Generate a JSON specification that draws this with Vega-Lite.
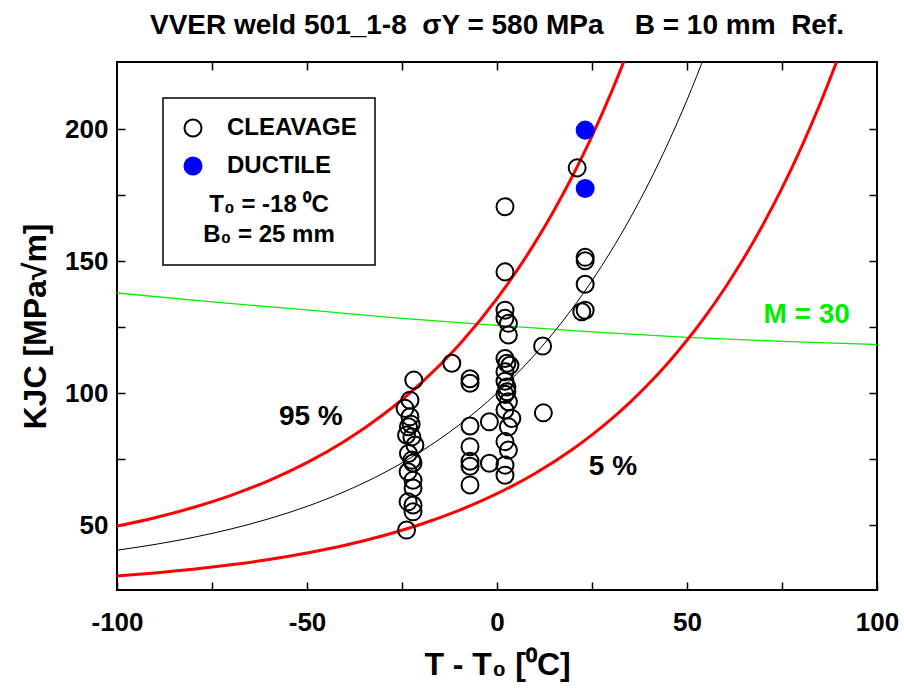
{
  "$schema": "https://vega.github.io/schema/vega-lite/v6.json",
  "width": 760,
  "height": 528,
  "autosize": "none",
  "padding": {"left": 117, "top": 62, "right": 27, "bottom": 98},
  "background": "white",
  "title": {
    "text": "VVER weld 501_1-8\u00a0 σY = 580 MPa\u00a0\u00a0\u00a0 B = 10 mm\u00a0 Ref.",
    "font": "Liberation Sans",
    "fontSize": 28,
    "fontWeight": "bold",
    "color": "black",
    "anchor": "middle",
    "offset": 21
  },
  "config": {
    "view": {"stroke": "black", "strokeWidth": 2},
    "axis": {
      "domain": false,
      "grid": false,
      "tickColor": "black",
      "tickWidth": 1.5,
      "tickSize": -8,
      "labelFont": "Liberation Sans",
      "labelFontWeight": "bold",
      "labelFontSize": 26,
      "labelColor": "black",
      "labelFlush": false,
      "labelOverlap": false,
      "titleFont": "Liberation Sans",
      "titleFontWeight": "bold",
      "titleFontSize": 32,
      "titleColor": "black"
    },
    "legend": {"strokeWidth": 1.5}
  },
  "datasets": {
    "p95": [
      {"T": -100, "K": 49.62}, {"T": -90, "K": 52.79}, {"T": -80, "K": 56.63}, {"T": -70, "K": 61.26},
      {"T": -60, "K": 66.87}, {"T": -50, "K": 73.65}, {"T": -40, "K": 81.85}, {"T": -30, "K": 91.76},
      {"T": -20, "K": 103.74}, {"T": -10, "K": 118.24}, {"T": 0, "K": 135.77}, {"T": 5, "K": 145.87},
      {"T": 10, "K": 156.97}, {"T": 15, "K": 169.18}, {"T": 20, "K": 182.6}, {"T": 25, "K": 197.36},
      {"T": 30, "K": 213.6}, {"T": 35, "K": 231.45}
    ],
    "med": [
      {"T": -100, "K": 40.47}, {"T": -90, "K": 42.66}, {"T": -80, "K": 45.31}, {"T": -70, "K": 48.51},
      {"T": -60, "K": 52.39}, {"T": -50, "K": 57.07}, {"T": -40, "K": 62.74}, {"T": -30, "K": 69.59},
      {"T": -20, "K": 77.87}, {"T": -10, "K": 87.89}, {"T": 0, "K": 100}, {"T": 5, "K": 106.98},
      {"T": 10, "K": 114.65}, {"T": 15, "K": 123.09}, {"T": 20, "K": 132.36}, {"T": 25, "K": 142.56},
      {"T": 30, "K": 153.78}, {"T": 35, "K": 166.11}, {"T": 40, "K": 179.68}, {"T": 45, "K": 194.6},
      {"T": 50, "K": 211.0}, {"T": 55, "K": 229.0}
    ],
    "p05": [
      {"T": -100, "K": 30.72}, {"T": -90, "K": 31.86}, {"T": -80, "K": 33.25}, {"T": -70, "K": 34.93},
      {"T": -60, "K": 36.95}, {"T": -50, "K": 39.41}, {"T": -40, "K": 42.37}, {"T": -30, "K": 45.96},
      {"T": -20, "K": 50.29}, {"T": -10, "K": 55.54}, {"T": 0, "K": 61.88}, {"T": 10, "K": 69.55},
      {"T": 20, "K": 78.82}, {"T": 25, "K": 84.16}, {"T": 30, "K": 90.03}, {"T": 35, "K": 96.49},
      {"T": 40, "K": 103.59}, {"T": 45, "K": 111.4}, {"T": 50, "K": 119.99}, {"T": 55, "K": 129.43},
      {"T": 60, "K": 139.81}, {"T": 65, "K": 151.24}, {"T": 70, "K": 163.79}, {"T": 75, "K": 177.6},
      {"T": 80, "K": 192.78}, {"T": 85, "K": 209.48}, {"T": 90, "K": 227.84}
    ],
    "m30": [
      {"T": -100, "K": 137.9}, {"T": -75, "K": 134.5}, {"T": -50, "K": 131.5}, {"T": -25, "K": 128.3},
      {"T": 0, "K": 125.6}, {"T": 25, "K": 123.2}, {"T": 50, "K": 121.1}, {"T": 75, "K": 119.6},
      {"T": 100, "K": 118.4}
    ],
    "pts": [
      {"T": -21.9, "K": 104.9, "type": "CLEAVAGE"}, {"T": -22.9, "K": 97.3, "type": "CLEAVAGE"},
      {"T": -24.2, "K": 94.2, "type": "CLEAVAGE"}, {"T": -22.9, "K": 91.0, "type": "CLEAVAGE"},
      {"T": -23.3, "K": 87.2, "type": "CLEAVAGE"}, {"T": -22.6, "K": 88.2, "type": "CLEAVAGE"},
      {"T": -23.8, "K": 84.1, "type": "CLEAVAGE"}, {"T": -22.4, "K": 83.4, "type": "CLEAVAGE"},
      {"T": -21.6, "K": 80.3, "type": "CLEAVAGE"}, {"T": -23.3, "K": 77.1, "type": "CLEAVAGE"},
      {"T": -22.4, "K": 74.6, "type": "CLEAVAGE"}, {"T": -22.1, "K": 73.5, "type": "CLEAVAGE"},
      {"T": -23.4, "K": 70.2, "type": "CLEAVAGE"}, {"T": -22.1, "K": 67.0, "type": "CLEAVAGE"},
      {"T": -22.1, "K": 64.0, "type": "CLEAVAGE"}, {"T": -23.4, "K": 58.8, "type": "CLEAVAGE"},
      {"T": -22.1, "K": 57.6, "type": "CLEAVAGE"}, {"T": -22.1, "K": 55.0, "type": "CLEAVAGE"},
      {"T": -23.8, "K": 48.1, "type": "CLEAVAGE"},
      {"T": -11.9, "K": 111.3, "type": "CLEAVAGE"}, {"T": -7.1, "K": 105.4, "type": "CLEAVAGE"},
      {"T": -7.1, "K": 103.7, "type": "CLEAVAGE"}, {"T": -7.1, "K": 87.5, "type": "CLEAVAGE"},
      {"T": -2.0, "K": 89.1, "type": "CLEAVAGE"}, {"T": -7.1, "K": 79.7, "type": "CLEAVAGE"},
      {"T": -7.1, "K": 74.2, "type": "CLEAVAGE"}, {"T": -7.1, "K": 72.3, "type": "CLEAVAGE"},
      {"T": -7.1, "K": 65.2, "type": "CLEAVAGE"}, {"T": -2.0, "K": 73.4, "type": "CLEAVAGE"},
      {"T": 2.1, "K": 170.6, "type": "CLEAVAGE"}, {"T": 2.1, "K": 145.9, "type": "CLEAVAGE"},
      {"T": 2.1, "K": 131.4, "type": "CLEAVAGE"}, {"T": 2.1, "K": 128.3, "type": "CLEAVAGE"},
      {"T": 3.0, "K": 126.4, "type": "CLEAVAGE"}, {"T": 3.0, "K": 122.0, "type": "CLEAVAGE"},
      {"T": 2.1, "K": 113.1, "type": "CLEAVAGE"}, {"T": 2.6, "K": 111.3, "type": "CLEAVAGE"},
      {"T": 3.4, "K": 110.5, "type": "CLEAVAGE"}, {"T": 2.1, "K": 108.1, "type": "CLEAVAGE"},
      {"T": 2.1, "K": 104.5, "type": "CLEAVAGE"}, {"T": 2.6, "K": 102.3, "type": "CLEAVAGE"},
      {"T": 2.6, "K": 100.5, "type": "CLEAVAGE"}, {"T": 2.1, "K": 99.5, "type": "CLEAVAGE"},
      {"T": 3.0, "K": 96.7, "type": "CLEAVAGE"}, {"T": 2.1, "K": 93.6, "type": "CLEAVAGE"},
      {"T": 3.9, "K": 90.4, "type": "CLEAVAGE"}, {"T": 3.0, "K": 87.2, "type": "CLEAVAGE"},
      {"T": 2.1, "K": 81.6, "type": "CLEAVAGE"}, {"T": 3.0, "K": 78.4, "type": "CLEAVAGE"},
      {"T": 2.1, "K": 72.7, "type": "CLEAVAGE"}, {"T": 2.1, "K": 68.9, "type": "CLEAVAGE"},
      {"T": 12.0, "K": 117.8, "type": "CLEAVAGE"}, {"T": 12.2, "K": 92.5, "type": "CLEAVAGE"},
      {"T": 21.1, "K": 185.3, "type": "CLEAVAGE"}, {"T": 23.2, "K": 151.4, "type": "CLEAVAGE"},
      {"T": 23.2, "K": 150.1, "type": "CLEAVAGE"}, {"T": 23.2, "K": 141.2, "type": "CLEAVAGE"},
      {"T": 22.3, "K": 130.8, "type": "CLEAVAGE"}, {"T": 23.2, "K": 131.4, "type": "CLEAVAGE"},
      {"T": 23.2, "K": 199.6, "type": "DUCTILE"}, {"T": 23.2, "K": 177.5, "type": "DUCTILE"}
    ],
    "notes": [
      {"T": -49, "K": 91, "label": "95 %"},
      {"T": 30.5, "K": 72, "label": "5 %"}
    ],
    "mnote": [
      {"T": 81.5, "K": 129.5, "label": "M = 30"}
    ]
  },
  "layer": [
    {
      "data": {"name": "m30"},
      "mark": {"type": "line", "color": "#00ee00", "strokeWidth": 1.3, "interpolate": "monotone", "clip": true},
      "encoding": {
        "x": {"field": "T", "type": "quantitative", "scale": {"domain": [-100, 100], "nice": false},
          "axis": {"orient": "top", "values": [-75, -50, -25, 0, 25, 50, 75], "labels": false, "title": null}},
        "y": {"field": "K", "type": "quantitative", "scale": {"domain": [25.4, 225.4], "nice": false, "zero": false},
          "axis": {"orient": "right", "values": [50, 75, 100, 125, 150, 175, 200], "labels": false, "title": null}}
      }
    },
    {
      "data": {"name": "med"},
      "mark": {"type": "line", "color": "black", "strokeWidth": 1, "interpolate": "monotone", "clip": true},
      "encoding": {
        "x": {"field": "T", "type": "quantitative",
          "axis": {"orient": "bottom", "values": [-100, -75, -50, -25, 0, 25, 50, 75, 100],
            "labelExpr": "datum.value % 50 === 0 ? toString(datum.value) : ''", "labelPadding": 27,
            "title": "T - T₀ [⁰C]", "titlePadding": 14}},
        "y": {"field": "K", "type": "quantitative",
          "axis": {"orient": "left", "values": [50, 75, 100, 125, 150, 175, 200],
            "labelExpr": "datum.value % 50 === 0 ? toString(datum.value) : ''", "labelPadding": 17,
            "title": "KJC [MPa√m]", "titlePadding": 12}}
      }
    },
    {
      "data": {"name": "p95"},
      "mark": {"type": "line", "color": "#ff0000", "strokeWidth": 3, "interpolate": "monotone", "clip": true},
      "encoding": {
        "x": {"field": "T", "type": "quantitative", "axis": null},
        "y": {"field": "K", "type": "quantitative", "axis": null}
      }
    },
    {
      "data": {"name": "p05"},
      "mark": {"type": "line", "color": "#ff0000", "strokeWidth": 3, "interpolate": "monotone", "clip": true},
      "encoding": {
        "x": {"field": "T", "type": "quantitative", "axis": null},
        "y": {"field": "K", "type": "quantitative", "axis": null}
      }
    },
    {
      "data": {"name": "notes"},
      "mark": {"type": "text", "font": "Liberation Sans", "fontWeight": "bold", "fontSize": 28, "color": "black", "align": "center", "baseline": "middle"},
      "encoding": {
        "x": {"field": "T", "type": "quantitative", "axis": null},
        "y": {"field": "K", "type": "quantitative", "axis": null},
        "text": {"field": "label"}
      }
    },
    {
      "data": {"name": "mnote"},
      "mark": {"type": "text", "font": "Liberation Sans", "fontWeight": "bold", "fontSize": 28, "color": "#00ee00", "align": "center", "baseline": "middle"},
      "encoding": {
        "x": {"field": "T", "type": "quantitative", "axis": null},
        "y": {"field": "K", "type": "quantitative", "axis": null},
        "text": {"field": "label"}
      }
    },
    {
      "data": {"name": "pts"},
      "mark": {"type": "point", "shape": "circle", "size": 290, "strokeWidth": 2, "opacity": 1},
      "encoding": {
        "x": {"field": "T", "type": "quantitative", "axis": null},
        "y": {"field": "K", "type": "quantitative", "axis": null},
        "fill": {"field": "type", "type": "nominal",
          "scale": {"domain": ["CLEAVAGE", "DUCTILE"], "range": ["transparent", "blue"]},
          "legend": {"orient": "none", "legendX": 46, "legendY": 36, "strokeColor": "black", "fillColor": "white",
            "padding": 18, "labelFont": "Liberation Sans", "labelFontWeight": "bold", "labelFontSize": 24, "labelColor": "black",
            "symbolSize": 290, "symbolStrokeWidth": 2, "labelOffset": 22, "rowPadding": 12,
            "title": ["T₀ = -18 ⁰C", "B₀ = 25 mm"], "titleOrient": "bottom", "titleFont": "Liberation Sans",
            "titleFontWeight": "bold", "titleFontSize": 24, "titleColor": "black", "titleAnchor": "middle",
            "titleAlign": "center", "titlePadding": 14, "titleLineHeight": 30}},
        "stroke": {"field": "type", "type": "nominal",
          "scale": {"domain": ["CLEAVAGE", "DUCTILE"], "range": ["black", "blue"]},
          "legend": {"orient": "none", "legendX": 46, "legendY": 36, "strokeColor": "black", "fillColor": "white",
            "padding": 18, "labelFont": "Liberation Sans", "labelFontWeight": "bold", "labelFontSize": 24, "labelColor": "black",
            "symbolSize": 290, "symbolStrokeWidth": 2, "labelOffset": 22, "rowPadding": 12,
            "title": ["T₀ = -18 ⁰C", "B₀ = 25 mm"], "titleOrient": "bottom", "titleFont": "Liberation Sans",
            "titleFontWeight": "bold", "titleFontSize": 24, "titleColor": "black", "titleAnchor": "middle",
            "titleAlign": "center", "titlePadding": 14, "titleLineHeight": 30}}
      }
    }
  ],
  "resolve": {"axis": {"x": "independent", "y": "independent"}}
}
